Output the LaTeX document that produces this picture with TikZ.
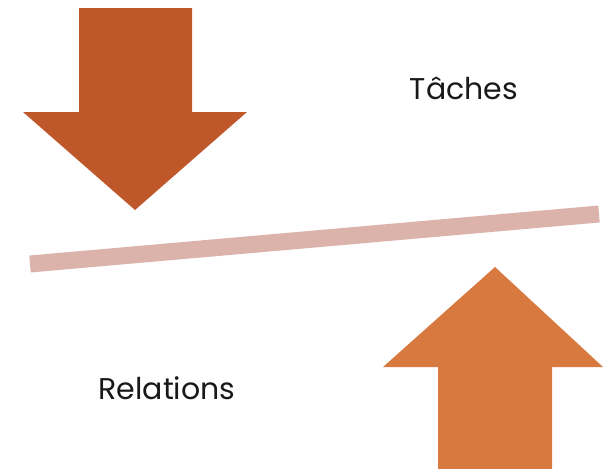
\documentclass[tikz,border=0pt]{standalone}
\usepackage{fontspec}
\setmainfont{Poppins}
\usepackage{tikz}
\definecolor{rouille}{RGB}{190,88,43}
\definecolor{orange}{RGB}{216,122,63}
\definecolor{rose}{RGB}{219,179,171}
\tikzstyle{fleche}=[draw=none]
\tikzstyle{mot}=[inner sep=0pt, font=\fontsize{30}{35}\selectfont, text=black!90]
\begin{document}
\begin{tikzpicture}[x=1pt,y=-1pt]
\useasboundingbox (0,0) rectangle (603,469);
\fill[fleche, rouille] (79,8) -- (192,8) -- (192,112) -- (247,112) -- (135,210) -- (23,112) -- (79,112) -- cycle;
\fill[fleche, orange] (438,469) -- (552,469) -- (552,367) -- (603,367) -- (495,267) -- (383,367) -- (438,367) -- cycle;
\draw[rose, line width=17pt] (30,264) -- (599,214);
\node[mot, anchor=base] (T) at (464,99) {Tâches};
\node[mot, anchor=base] (R) at (167,399) {Relations};
\end{tikzpicture}
\end{document}
